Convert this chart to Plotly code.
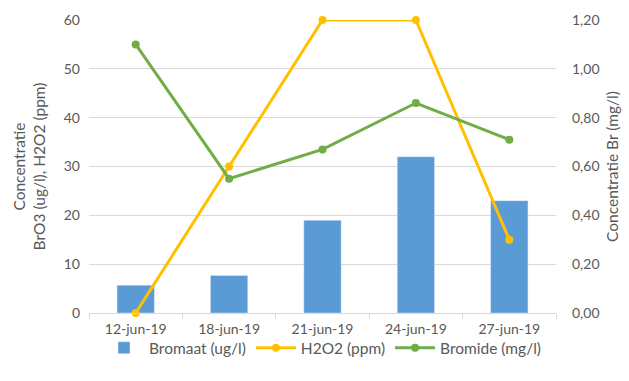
import plotly.graph_objects as go
from plotly.subplots import make_subplots

# Meetdata
datums = ["12-jun-19", "18-jun-19", "21-jun-19", "24-jun-19", "27-jun-19"]
bromaat = [5.7, 7.7, 19, 32, 23]          # ug/l
h2o2 = [0, 30, 60, 60, 15]                 # ppm
bromide = [1.10, 0.55, 0.67, 0.86, 0.71]   # mg/l

left_ticks = [0, 10, 20, 30, 40, 50, 60]
right_ticks = [0, 0.2, 0.4, 0.6, 0.8, 1.0, 1.2]

TXT = "#595959"
GRID = "#d9d9d9"
FONT = "Lato, Liberation Sans, sans-serif"
TICK = 14

fig = make_subplots(specs=[[{"secondary_y": True}]])

fig.add_trace(go.Bar(
    x=datums, y=bromaat, name="Bromaat (ug/l)",
    marker=dict(color="#5B9BD5"), width=0.4,
), secondary_y=False)

fig.add_trace(go.Scatter(
    x=datums, y=h2o2, name="H2O2 (ppm)", mode="lines+markers",
    line=dict(color="#FFC000", width=3), marker=dict(size=8, color="#FFC000"),
    cliponaxis=False,
), secondary_y=False)

fig.add_trace(go.Scatter(
    x=datums, y=bromide, name="Bromide (mg/l)", mode="lines+markers",
    line=dict(color="#70AD47", width=3), marker=dict(size=8, color="#70AD47"),
    cliponaxis=False,
), secondary_y=True)

fig.update_layout(
    width=629, height=381,
    margin=dict(l=89, r=73, t=20, b=68, autoexpand=False),
    paper_bgcolor="white", plot_bgcolor="white",
    font=dict(family=FONT, size=TICK, color=TXT),
    separators=",.",
    showlegend=True,
    legend=dict(orientation="h", x=0.5, xanchor="center", y=-0.062, yanchor="top",
                bgcolor="rgba(0,0,0,0)",
                font=dict(size=15.5, color=TXT), itemwidth=40, traceorder="normal"),
)

fig.update_xaxes(
    type="category", domain=[0, 1], showgrid=False, showline=True, linecolor=GRID, linewidth=1,
    ticks="outside", tickson="boundaries", ticklen=5, tickcolor=GRID,
    ticklabelstandoff=3, tickfont=dict(size=TICK, color=TXT), automargin=False,
)

fig.update_yaxes(
    range=[0, 60], tickvals=left_ticks, showgrid=True, gridcolor=GRID, gridwidth=1,
    zeroline=False, showline=False, ticks="", ticklabelstandoff=8,
    tickfont=dict(size=TICK, color=TXT), automargin=False,
    title=dict(text="Concentratie<br>BrO3 (ug/l), H2O2 (ppm)", font=dict(size=15.5, color=TXT), standoff=14),
    secondary_y=False,
)

fig.update_yaxes(
    range=[0, 1.2], tickvals=right_ticks, tickformat=".2f", showgrid=False,
    zeroline=False, showline=False, ticks="", ticklabelstandoff=15,
    tickfont=dict(size=TICK, color=TXT), automargin=False,
    title=dict(text="Concentratie Br (mg/l)", font=dict(size=15.5, color=TXT), standoff=8),
    secondary_y=True,
)

fig.write_html("out.html")
